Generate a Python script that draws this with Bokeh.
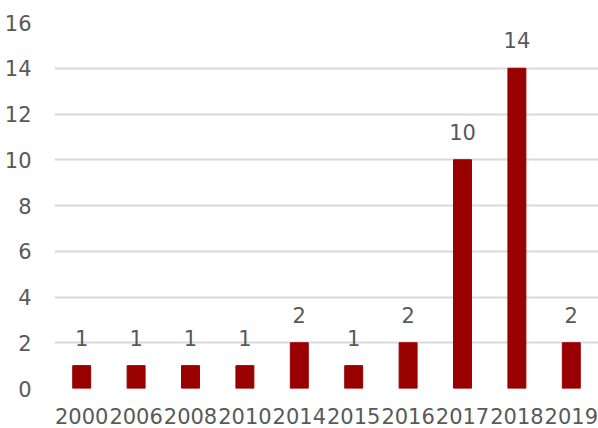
from bokeh.plotting import figure
from bokeh.models import ColumnDataSource, LabelSet, FixedTicker
from bokeh.core.properties import value
from bokeh.embed import file_html
from bokeh.resources import INLINE

years = ["2000", "2006", "2008", "2010", "2014", "2015", "2016", "2017", "2018", "2019"]
counts = [1, 1, 1, 1, 2, 1, 2, 10, 14, 2]
y_ticks = [0, 2, 4, 6, 8, 10, 12, 14, 16]

FONT = "DejaVu Sans"
SIZE = "21px"
TEXT = "#595959"
BAR = "#990000"
GRID = "#d9d9d9"

source = ColumnDataSource(data=dict(year=years, count=counts, label=[str(c) for c in counts]))

p = figure(x_range=years, y_range=(0, 16), width=598, height=428,
           output_backend="svg", toolbar_location=None,
           min_border_left=54, min_border_right=0, min_border_top=22, min_border_bottom=40)

p.vbar(x="year", top="count", width=0.33, color=BAR, source=source)

labels = LabelSet(x="year", y="count", text="label", source=source,
                  text_align="center", text_baseline="alphabetic", y_offset=20,
                  text_font=value(FONT), text_font_size=value(SIZE), text_color=TEXT)
p.add_layout(labels)

p.outline_line_color = None
p.background_fill_color = "white"
p.border_fill_color = "white"

p.xgrid.grid_line_color = None
p.ygrid.grid_line_color = GRID
p.ygrid.grid_line_width = 2

p.yaxis.ticker = FixedTicker(ticks=y_ticks)
for ax in (p.xaxis[0], p.yaxis[0]):
    ax.axis_line_color = None
    ax.major_tick_line_color = None
    ax.minor_tick_line_color = None
    ax.major_label_text_font = FONT
    ax.major_label_text_font_size = SIZE
    ax.major_label_text_color = TEXT
p.yaxis.major_label_standoff = 17
p.xaxis.major_label_standoff = 13
p.x_range.range_padding = 0
p.x_range.group_padding = 0

open("out.html", "w").write(file_html(p, INLINE))
